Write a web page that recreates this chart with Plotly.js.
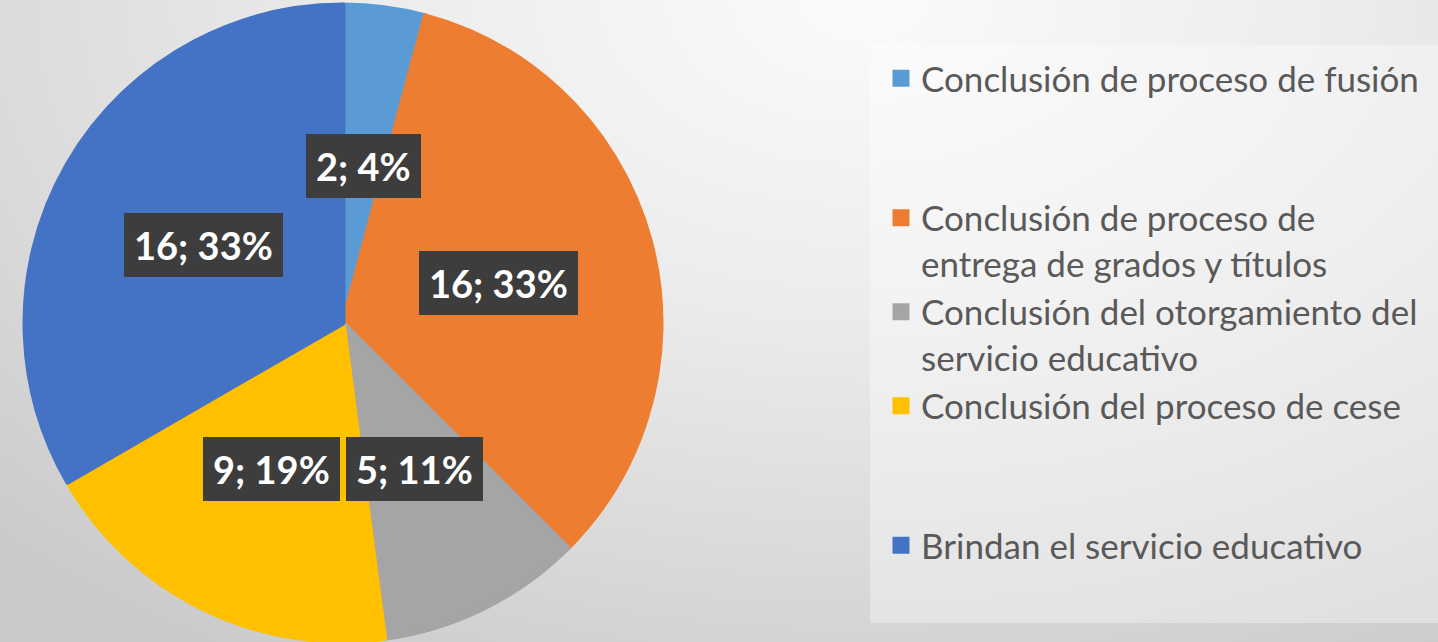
<!DOCTYPE html>
<html>
<head>
<meta charset="utf-8">
<script src="https://cdn.plot.ly/plotly-3.0.1.min.js"></script>
<style>
  html, body { margin: 0; padding: 0; }
  body {
    width: 1438px; height: 642px; overflow: hidden;
    background: radial-gradient(ellipse 85% 120% at 60% 0%, #fbfbfb 0%, #ececec 40%, #d9d9d9 75%, #cacaca 100%);
  }
  #chart { width: 1438px; height: 642px; }
</style>
</head>
<body>
<div id="chart"></div>
<script>
// ---- data ----
const categories = [
  'Conclusión de proceso de fusión',
  'Conclusión de proceso de<br>entrega de grados y títulos',
  'Conclusión del otorgamiento del<br>servicio educativo',
  'Conclusión del proceso de cese',
  'Brindan el servicio educativo'
];
const values = [2, 16, 5, 9, 16];
const percentLabels = ['4%', '33%', '11%', '19%', '33%'];
const sliceColors = ['#5B9BD5', '#ED7D31', '#A5A5A5', '#FFC000', '#4472C4'];
const legendExtraLines = [2, 0, 0, 2, 0];

// ---- layout helpers ----
const W = 1438, H = 642;
const pieCx = 343, pieCy = 323, pieR = 318;
const domX = [(pieCx - pieR) / W, (pieCx + pieR) / W];
const domY = [1 - (pieCy + pieR) / H, 1 - (pieCy - pieR) / H];

const legendLabels = categories.map((c, i) => c + '<br> '.repeat(legendExtraLines[i]));

const pie = {
  type: 'pie',
  labels: legendLabels,
  values: values,
  sort: false,
  direction: 'clockwise',
  rotation: 0,
  textinfo: 'none',
  hoverinfo: 'label+value+percent',
  marker: { colors: sliceColors, line: { color: sliceColors, width: 5 } },
  domain: { x: domX, y: domY },
  showlegend: true
};

// data labels placed from slice mid-angles, in a hidden [-1,1] axis frame over the pie
const total = values.reduce((a, b) => a + b, 0);
let cum = 0;
const labelRadius = 0.505;
const annotations = values.map((v, i) => {
  const mid = (cum + v / 2) / total * 2 * Math.PI;
  cum += v;
  return {
    xref: 'x', yref: 'y',
    x: labelRadius * Math.sin(mid),
    y: labelRadius * Math.cos(mid) - 0.006,
    text: v + '; ' + percentLabels[i],
    showarrow: false,
    font: { family: 'Lato, "Open Sans", sans-serif', size: 38, color: '#ffffff', weight: 700 },
    bgcolor: '#3d3d3d',
    height: 44,
    borderpad: 10,
    borderwidth: 0
  };
});

const layout = {
  width: W, height: H,
  margin: { l: 0, r: 0, t: 0, b: 0 },
  paper_bgcolor: 'rgba(0,0,0,0)',
  plot_bgcolor: 'rgba(0,0,0,0)',
  xaxis: { domain: domX, range: [-1, 1], visible: false, fixedrange: true },
  yaxis: { domain: domY, range: [-1, 1], visible: false, fixedrange: true },
  showlegend: true,
  legend: {
    x: 881 / W, xanchor: 'left',
    y: 1 - 49 / H, yanchor: 'top',
    valign: 'top',
    bgcolor: 'rgba(0,0,0,0)',
    borderwidth: 0,
    font: { family: 'Lato, "Open Sans", sans-serif', size: 35, color: '#595959' },
    traceorder: 'normal'
  },
  shapes: [{
    type: 'rect', xref: 'paper', yref: 'paper', layer: 'below',
    x0: 870 / W, x1: 1, y0: 1 - 623 / H, y1: 1 - 45 / H,
    fillcolor: 'rgba(255,255,255,0.35)', line: { width: 0 }
  }],
  annotations: annotations
};

Plotly.newPlot('chart', [pie], layout, { displayModeBar: false, staticPlot: true });
</script>
</body>
</html>
